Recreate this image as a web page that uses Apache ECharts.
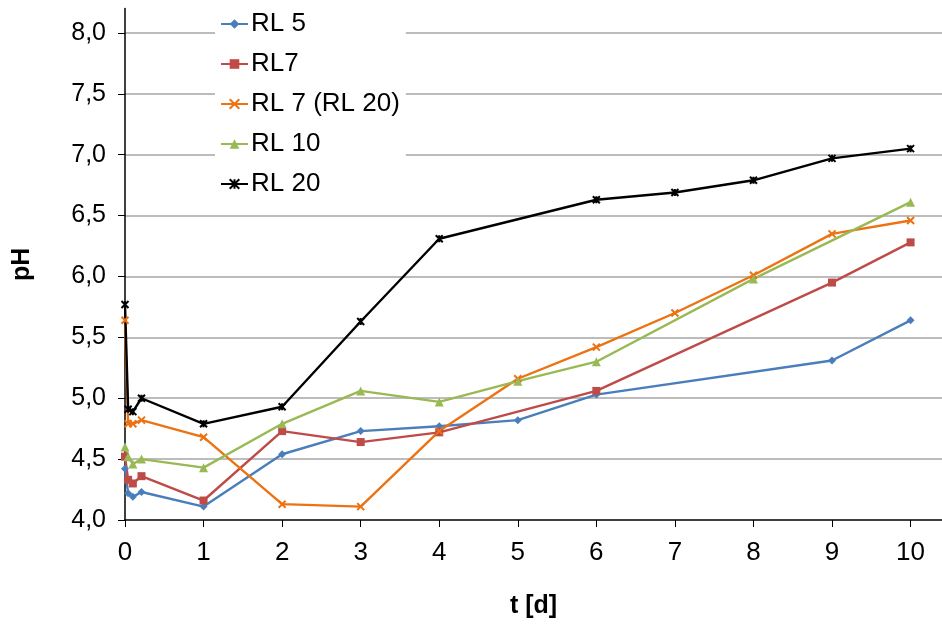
<!DOCTYPE html>
<html>
<head>
<meta charset="utf-8">
<script src="https://cdn.jsdelivr.net/npm/echarts@6/dist/echarts.min.js"></script>
<style>
html,body{margin:0;padding:0;background:#fff;}
#chart{width:942px;height:628px;}
</style>
</head>
<body>
<div id="chart"></div>
<script>
// Data (t in days, pH)
const seriesNames = ['RL 5', 'RL7', 'RL 7 (RL 20)', 'RL 10', 'RL 20'];
const rl5_t  = [0, 0.04, 0.1, 0.21, 1, 2, 3, 4, 5, 6, 9, 10];
const rl5_pH = [4.42, 4.22, 4.19, 4.23, 4.11, 4.54, 4.73, 4.77, 4.82, 5.03, 5.31, 5.64];
const rl7_t  = [0, 0.04, 0.1, 0.21, 1, 2, 3, 4, 6, 9, 10];
const rl7_pH = [4.52, 4.33, 4.30, 4.36, 4.16, 4.73, 4.64, 4.72, 5.06, 5.95, 6.28];
const rl7b_t  = [0, 0.04, 0.1, 0.21, 1, 2, 3, 4, 5, 6, 7, 8, 9, 10];
const rl7b_pH = [5.64, 4.79, 4.79, 4.82, 4.68, 4.13, 4.11, 4.73, 5.16, 5.42, 5.70, 6.01, 6.35, 6.46];
const rl10_t  = [0, 0.04, 0.1, 0.21, 1, 2, 3, 4, 5, 6, 8, 10];
const rl10_pH = [4.60, 4.52, 4.46, 4.50, 4.43, 4.79, 5.06, 4.97, 5.14, 5.30, 5.98, 6.61];
const rl20_t  = [0, 0.04, 0.1, 0.21, 1, 2, 3, 4, 6, 7, 8, 9, 10];
const rl20_pH = [5.77, 4.91, 4.89, 5.00, 4.79, 4.93, 5.63, 6.31, 6.63, 6.69, 6.79, 6.97, 7.05];
const xTicks = [0, 1, 2, 3, 4, 5, 6, 7, 8, 9, 10];
const yTicks = [4.0, 4.5, 5.0, 5.5, 6.0, 6.5, 7.0, 7.5, 8.0];

const colors = ['#4A7EBB', '#BE4B48', '#EC7212', '#98B954', '#000000'];
const crossPath = 'path://M0,0L10,10M10,0L0,10';
const starPath = 'path://M0,0L10,10M10,0L0,10M5,0L5,10';
const symbols = ['diamond', 'rect', crossPath, 'triangle', starPath];
const symbolSizes = [8, 8, 7, 9, 7];
const tArr = [rl5_t, rl7_t, rl7b_t, rl10_t, rl20_t];
const vArr = [rl5_pH, rl7_pH, rl7b_pH, rl10_pH, rl20_pH];

const FONT = '"Liberation Sans", Arial, sans-serif';

const series = seriesNames.map((name, i) => {
  const isPath = i === 2 || i === 4;
  return {
    name: name,
    type: 'line',
    data: tArr[i].map((t, j) => [t, vArr[i][j]]),
    symbol: symbols[i],
    symbolSize: symbolSizes[i],
    showAllSymbol: true,
    lineStyle: { color: colors[i], width: 2.4 },
    itemStyle: isPath
      ? { color: colors[i], borderColor: colors[i], borderWidth: 2 }
      : { color: colors[i], borderWidth: 0 },
    animation: false
  };
});

const chart = echarts.init(document.getElementById('chart'), null, { renderer: 'canvas' });
chart.setOption({
  animation: false,
  color: colors,
  grid: { left: 125, right: 0, top: 8.6, bottom: 108, containLabel: false },
  legend: {
    orient: 'vertical',
    left: 215,
    top: 7,
    padding: [4, 6, 6, 5],
    backgroundColor: '#ffffff',
    itemWidth: 27,
    itemHeight: 12,
    itemGap: 14,
    textStyle: { fontFamily: FONT, fontSize: 26, color: '#000', padding: [0, 0, 0, -2] },
    data: seriesNames
  },
  xAxis: {
    type: 'value',
    min: 0,
    max: 10.4,
    interval: 1,
    name: 't [d]',
    nameLocation: 'middle',
    nameGap: 74,
    nameTextStyle: { fontFamily: FONT, fontSize: 25, fontWeight: 'bold', color: '#000' },
    axisLine: { show: true, onZero: false, lineStyle: { color: '#000', width: 1.5 } },
    axisTick: { show: true, inside: false, length: 7, lineStyle: { color: '#000', width: 1 }, customValues: xTicks },
    axisLabel: {
      customValues: xTicks,
      margin: 20,
      fontFamily: FONT,
      fontSize: 26,
      color: '#000',
      formatter: v => (xTicks.indexOf(v) >= 0 ? String(v) : '')
    },
    splitLine: { show: false }
  },
  yAxis: {
    type: 'value',
    min: 4,
    max: 8.2,
    interval: 0.5,
    name: 'pH',
    nameLocation: 'middle',
    nameGap: 90,
    nameRotate: 90,
    nameTextStyle: { fontFamily: FONT, fontSize: 25, fontWeight: 'bold', color: '#000' },
    axisLine: { show: true, lineStyle: { color: '#000', width: 1.5 } },
    axisTick: { show: true, inside: false, length: 7, lineStyle: { color: '#000', width: 1 }, customValues: yTicks },
    axisLabel: {
      customValues: yTicks,
      margin: 19,
      fontFamily: FONT,
      fontSize: 25,
      color: '#000',
      formatter: v => (yTicks.indexOf(v) >= 0 ? v.toFixed(1).replace('.', ',') : '')
    },
    splitLine: { show: true, showMinLine: false, showMaxLine: true, lineStyle: { color: '#A6A6A6', width: 1.5 } }
  },
  series: series
});
</script>
</body>
</html>
